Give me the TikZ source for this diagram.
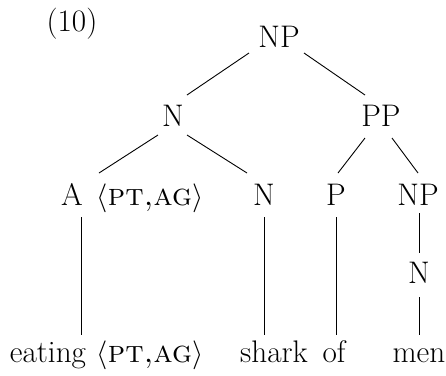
\documentclass[tikz,border=0pt]{standalone}
\begin{document}
\begin{tikzpicture}[x=0.5pt,y=-0.5pt,
  lbl/.style={inner sep=0pt,anchor=base,font=\fontsize{15.6}{19}\selectfont},
  br/.style={line width=0.45pt}]
\useasboundingbox (0,0) rectangle (446,376);
% labels
\node[lbl] (ex) at (72,31) {(10)};
\node[lbl] (np) at (279,47) {NP};
\node[lbl] (n1) at (173,126) {N};
\node[lbl] (pp) at (381,126) {PP};
\node[lbl] (a) at (72,205) {A};
\node[lbl] (afeat) at (150,205) {$\langle$\textsc{pt,ag}$\rangle$};
\node[lbl] (n2) at (264,205) {N};
\node[lbl] (p) at (336,205) {P};
\node[lbl] (np2) at (418,205) {NP};
\node[lbl] (n3) at (419,283) {N};
\node[lbl] (eat) at (48,362) {eating};
\node[lbl] (efeat) at (150,362) {$\langle$\textsc{pt,ag}$\rangle$};
\node[lbl] (shark) at (274,362) {shark};
\node[lbl] (of) at (334,362) {of};
\node[lbl] (men) at (419,362) {men};
% edge end points
\coordinate (np-l) at (249,53);  \coordinate (n1-t) at (187,95);
\coordinate (np-r) at (304,53);  \coordinate (pp-t) at (365,95);
\coordinate (n1-l) at (158,135); \coordinate (a-t) at (99,173);
\coordinate (n1-r) at (187,135); \coordinate (n2-t) at (247,173);
\coordinate (pp-l) at (365,138); \coordinate (p-t) at (338,173);
\coordinate (pp-r) at (392,138); \coordinate (np2-t) at (418,173);
\coordinate (a-b) at (81,217);   \coordinate (eat-t) at (81,335);
\coordinate (n2-b) at (264,217); \coordinate (shark-t) at (264,335);
\coordinate (p-b) at (336,217);  \coordinate (of-t) at (336,335);
\coordinate (np2-b) at (419,213); \coordinate (n3-t) at (419,253);
\coordinate (n3-b) at (419,297); \coordinate (men-t) at (419,335);
\draw[br] (np-l) -- (n1-t);
\draw[br] (np-r) -- (pp-t);
\draw[br] (n1-l) -- (a-t);
\draw[br] (n1-r) -- (n2-t);
\draw[br] (pp-l) -- (p-t);
\draw[br] (pp-r) -- (np2-t);
\draw[br] (a-b) -- (eat-t);
\draw[br] (n2-b) -- (shark-t);
\draw[br] (p-b) -- (of-t);
\draw[br] (np2-b) -- (n3-t);
\draw[br] (n3-b) -- (men-t);
\end{tikzpicture}
\end{document}
